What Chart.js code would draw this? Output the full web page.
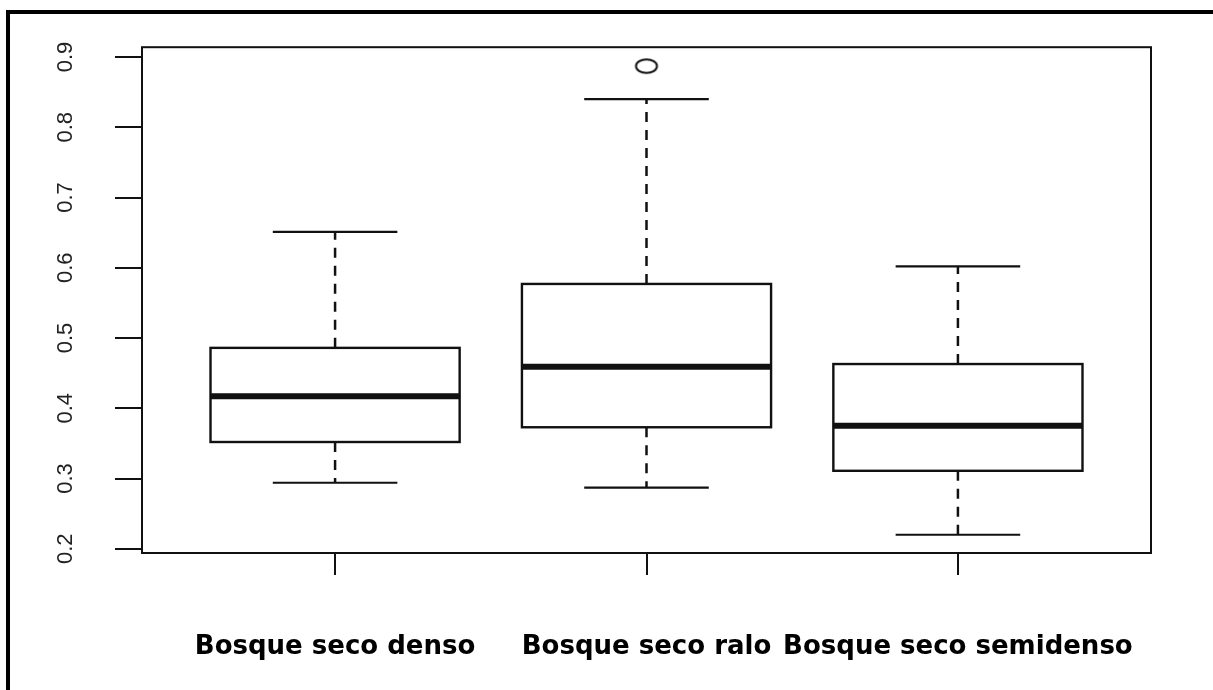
<!DOCTYPE html>
<html>
<head>
<meta charset="utf-8">
<script src="https://cdn.jsdelivr.net/npm/chart.js@4.4.1/dist/chart.umd.min.js"></script>
<style>
    html, body { margin: 0; padding: 0; background: #fff; }
    #wrap { position: relative; width: 1213px; height: 690px; overflow: hidden; }
    #frame {
        position: absolute; left: 6px; top: 10px; width: 1300px; height: 800px;
        border-left: 4px solid #000; border-top: 4px solid #000;
    }
    #box_chart { position: absolute; left: 0; top: 0; }
</style>
</head>
<body>
<div id="wrap">
    <div id="frame"></div>
    <canvas id="box_chart" width="1213" height="690"></canvas>
</div>
<script>
// datos
const categories = ['Bosque seco denso', 'Bosque seco ralo', 'Bosque seco semidenso'];
const whiskerLow = [0.294, 0.287, 0.220];
const q1 = [0.352, 0.373, 0.311];
const median = [0.417, 0.459, 0.375];
const q3 = [0.486, 0.577, 0.463];
const whiskerHigh = [0.651, 0.840, 0.602];
const outliers = [[], [0.887], []];
const yTicks = [0.2, 0.3, 0.4, 0.5, 0.6, 0.7, 0.8, 0.9];

const ink = '#111';

// punto atípico: círculo (algo achatado como en la imagen)
const ring = document.createElement('canvas');
ring.width = 26;
ring.height = 18;
const rc = ring.getContext('2d');
rc.strokeStyle = ink;
rc.lineWidth = 2;
rc.beginPath();
rc.ellipse(13, 9, 10.5, 6.8, 0, 0, Math.PI * 2);
rc.stroke();

// dibuja cajas, bigotes y medianas con las escalas del gráfico
const boxPlugin = {
    id: 'boxes',
    beforeDatasetsDraw(chart) {
        const { ctx, scales: { x, y } } = chart;
        const boxHalf = 0.4, capHalf = 0.2;
        ctx.save();
        ctx.strokeStyle = ink;
        categories.forEach((c, i) => {
            const xc = x.getPixelForValue(i + 1);
            const bw = x.getPixelForValue(i + 1 + boxHalf) - xc;
            const cw = x.getPixelForValue(i + 1 + capHalf) - xc;
            const yLo = y.getPixelForValue(whiskerLow[i]);
            const yQ1 = y.getPixelForValue(q1[i]);
            const yMed = y.getPixelForValue(median[i]);
            const yQ3 = y.getPixelForValue(q3[i]);
            const yHi = y.getPixelForValue(whiskerHigh[i]);

            // bigotes punteados
            ctx.lineWidth = 2.5;
            ctx.setLineDash([10, 8]);
            ctx.beginPath();
            ctx.moveTo(xc, yQ3); ctx.lineTo(xc, yHi);
            ctx.moveTo(xc, yQ1); ctx.lineTo(xc, yLo);
            ctx.stroke();
            ctx.setLineDash([]);

            // extremos
            ctx.lineWidth = 2.2;
            ctx.beginPath();
            ctx.moveTo(xc - cw, yHi); ctx.lineTo(xc + cw, yHi);
            ctx.moveTo(xc - cw, yLo); ctx.lineTo(xc + cw, yLo);
            ctx.stroke();

            // caja
            ctx.fillStyle = '#fff';
            ctx.fillRect(xc - bw, yQ3, bw * 2, yQ1 - yQ3);
            ctx.lineWidth = 2.4;
            ctx.strokeRect(xc - bw, yQ3, bw * 2, yQ1 - yQ3);

            // mediana
            ctx.lineWidth = 6;
            ctx.beginPath();
            ctx.moveTo(xc - bw, yMed); ctx.lineTo(xc + bw, yMed);
            ctx.stroke();
        });
        // marco del área de trazado
        const a = chart.chartArea;
        ctx.lineWidth = 2;
        ctx.strokeRect(a.left, a.top, a.right - a.left, a.bottom - a.top);
        ctx.restore();
    }
};

const ctx = document.getElementById('box_chart').getContext('2d');

const box_chart = new Chart(ctx, {
    type: 'scatter',
    data: {
        datasets: [{
            label: 'atípicos',
            data: outliers.flatMap((arr, i) => arr.map(v => ({ x: i + 1, y: v }))),
            pointStyle: ring,
            pointRadius: 9,
            pointHoverRadius: 9,
        }]
    },
    options: {
        responsive: false,
        animation: false,
        layout: {
            padding: { left: 0, right: 62, top: 47, bottom: 0 }
        },
        plugins: {
            legend: { display: false },
            tooltip: { enabled: false },
        },
        scales: {
            x: {
                type: 'linear',
                min: 0.38,
                max: 3.62,
                afterBuildTicks: (scale) => {
                    scale.ticks = categories.map((c, i) => ({ value: i + 1 }));
                },
                afterFit: (scale) => { scale.height = 137; },
                border: { display: false },
                grid: {
                    drawOnChartArea: false,
                    drawTicks: true,
                    tickLength: 22,
                    color: ink,
                    lineWidth: 2,
                },
                ticks: {
                    callback: (value) => categories[value - 1],
                    maxRotation: 0,
                    minRotation: 0,
                    autoSkip: false,
                    padding: 57,
                    color: '#000',
                    font: {
                        family: "'DejaVu Sans', sans-serif",
                        weight: 'bold',
                        size: 26,
                    },
                }
            },
            y: {
                type: 'linear',
                min: 0.194,
                max: 0.914,
                afterBuildTicks: (scale) => {
                    scale.ticks = yTicks.map(v => ({ value: v }));
                },
                afterFit: (scale) => { scale.width = 142; },
                border: { display: false },
                grid: {
                    drawOnChartArea: false,
                    drawTicks: true,
                    tickLength: 27,
                    color: ink,
                    lineWidth: 2,
                },
                ticks: {
                    callback: (value) => value.toFixed(1),
                    minRotation: 90,
                    maxRotation: 90,
                    crossAlign: 'center',
                    padding: 34,
                    color: '#222',
                    font: {
                        family: "'Liberation Sans', Arial, sans-serif",
                        size: 22,
                    },
                }
            }
        }
    },
    plugins: [boxPlugin]
});
</script>
</body>
</html>
